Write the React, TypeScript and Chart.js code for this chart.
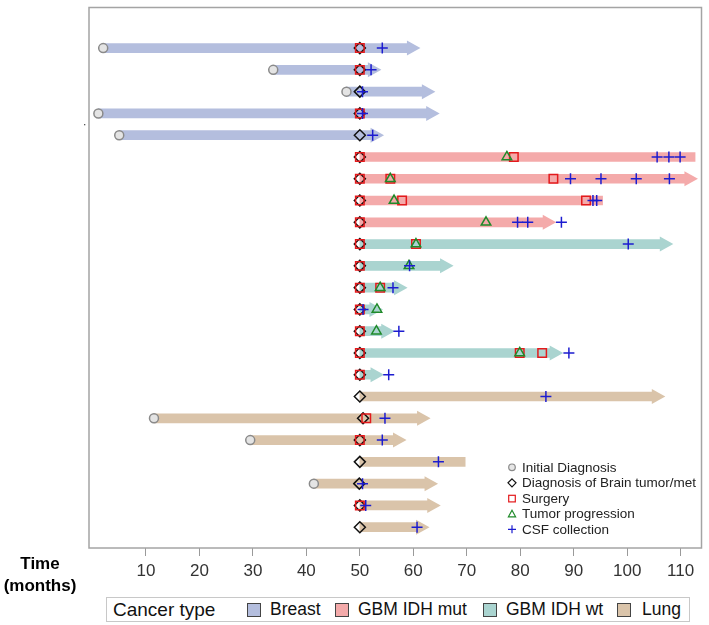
import React, { useEffect, useRef } from 'react';
import { Chart, registerables } from 'chart.js';

Chart.register(...registerables);

// ---------- data ----------
const cancerTypes = ['Breast', 'GBM IDH mut', 'GBM IDH wt', 'Lung'];
const typeColors = ['#b4bede', '#f4aaaa', '#aad4d0', '#dac4aa'];

const patientRows = [1, 2, 3, 4, 5, 6, 7, 8, 9, 10, 11, 12, 13, 14, 15, 16, 17, 18, 19, 20, 21, 22, 23];
const rowType = [0, 0, 0, 0, 0, 1, 1, 1, 1, 2, 2, 2, 2, 2, 2, 2, 3, 3, 3, 3, 3, 3, 3];
const barStart = [2.0, 33.8, 47.5, 1.1, 5.0, 50, 50, 50, 50, 50, 50, 50, 50, 50, 50, 50, 50, 11.5, 29.5, 50, 41.4, 50, 50];
const barEnd = [58.9, 51.6, 61.7, 62.5, 52.1, 112.7, 110.8, 95.4, 84.3, 106.2, 65.1, 56.5, 51.9, 54.1, 85.6, 52.1, 104.7, 60.8, 56.3, 69.7, 62.2, 62.7, 60.6];
const hasArrow = [1, 1, 1, 1, 1, 0, 1, 0, 1, 1, 1, 1, 1, 1, 1, 1, 1, 1, 1, 0, 1, 1, 1];

// [row, time in months]
const initialDiagnosis: [number, number][] = [
  [1, 2.0], [2, 33.8], [3, 47.5], [4, 1.1], [5, 5.0], [18, 11.5], [19, 29.5], [21, 41.4],
];
const brainDiagnosis: [number, number][] = [
  [1, 50], [2, 50], [3, 50], [4, 50], [5, 50], [6, 50], [7, 50], [8, 50], [9, 50], [10, 50],
  [11, 50], [12, 50], [13, 50], [14, 50], [15, 50], [16, 50], [17, 50], [18, 50.6], [19, 50],
  [20, 50], [21, 49.9], [22, 50], [23, 50],
];
const surgery: [number, number][] = [
  [1, 50], [2, 50], [4, 50], [6, 50], [6, 78.8], [7, 50], [7, 55.7], [7, 86.2], [8, 50], [8, 57.9],
  [8, 92.3], [9, 50], [10, 50], [10, 60.5], [11, 50], [12, 50], [12, 53.8], [13, 50], [14, 50],
  [15, 50], [15, 79.9], [15, 84.1], [16, 50], [18, 51.2], [19, 50], [22, 50],
];
const progression: [number, number][] = [
  [6, 77.5], [7, 55.7], [8, 56.4], [9, 73.6], [10, 60.5], [11, 59.2], [12, 53.8], [13, 53.2], [14, 53.1], [15, 79.9],
];
const csfCollection: [number, number][] = [
  [1, 54.2], [2, 52.1], [3, 50.5], [4, 50.5], [5, 52.4],
  [6, 105.6], [6, 107.8], [6, 109.9],
  [7, 89.4], [7, 95.1], [7, 101.7], [7, 107.9],
  [8, 93.6], [8, 94.3],
  [9, 79.5], [9, 81.4], [9, 87.7],
  [10, 100.2], [11, 59.3], [12, 56.2], [13, 50.6], [14, 57.3], [15, 89.1], [16, 55.4],
  [17, 84.8], [18, 54.7], [19, 54.2], [20, 64.7], [21, 50.5], [22, 51.1], [23, 60.7],
];

const tickValues = [10, 20, 30, 40, 50, 60, 70, 80, 90, 100, 110];
const eventLabels = ['Initial Diagnosis', 'Diagnosis of Brain tumor/met', 'Surgery', 'Tumor progression', 'CSF collection'];

const FONT = "'Liberation Sans', Arial, sans-serif";

const toPoints = (arr: [number, number][]) => arr.map(([r, t]) => ({ x: t, y: r }));

const framePlugin = {
  id: 'frame',
  beforeDatasetsDraw(chart: any) {
    const { ctx, chartArea: a } = chart;
    ctx.save();
    ctx.strokeStyle = '#a4a4a4';
    ctx.lineWidth = 1.5;
    ctx.strokeRect(a.left, a.top, a.right - a.left, a.bottom - a.top);
    ctx.fillStyle = '#555';
    ctx.fillRect(84, 124, 1.3, 1.3);
    ctx.restore();
  },
};

const arrowPlugin = {
  id: 'arrowHeads',
  afterDatasetDraw(chart: any, args: any) {
    if (args.index !== 0) return;
    const ctx = chart.ctx;
    const meta = args.meta;
    ctx.save();
    meta.data.forEach((el: any, i: number) => {
      if (!hasArrow[i]) return;
      const xe = Math.max(el.x, el.base);
      ctx.fillStyle = typeColors[rowType[i]];
      ctx.beginPath();
      ctx.moveTo(xe - 0.5, el.y - 7.5);
      ctx.lineTo(xe + 13, el.y);
      ctx.lineTo(xe - 0.5, el.y + 7.5);
      ctx.closePath();
      ctx.fill();
    });
    ctx.restore();
  },
};

const innerLegendPlugin = {
  id: 'innerLegend',
  afterDraw(chart: any) {
    const ctx = chart.ctx;
    const ys = [467.3, 482.8, 498.6, 514, 529.3];
    const mx = 512;
    ctx.save();
    ctx.lineWidth = 1.2;
    ctx.strokeStyle = '#8a8a8a';
    ctx.fillStyle = '#e6e6e6';
    ctx.beginPath(); ctx.arc(mx, ys[0], 3.3, 0, Math.PI * 2); ctx.fill(); ctx.stroke();
    ctx.strokeStyle = '#111';
    ctx.beginPath();
    ctx.moveTo(mx, ys[1] - 4); ctx.lineTo(mx + 4, ys[1]); ctx.lineTo(mx, ys[1] + 4); ctx.lineTo(mx - 4, ys[1]); ctx.closePath();
    ctx.stroke();
    ctx.strokeStyle = '#e31a1c';
    ctx.strokeRect(mx - 3.3, ys[2] - 3.3, 6.6, 6.6);
    ctx.strokeStyle = '#1f8a2a';
    ctx.beginPath();
    ctx.moveTo(mx, ys[3] - 3.8); ctx.lineTo(mx + 3.6, ys[3] + 2.8); ctx.lineTo(mx - 3.6, ys[3] + 2.8); ctx.closePath();
    ctx.stroke();
    ctx.strokeStyle = '#1c1cd0';
    ctx.beginPath();
    ctx.moveTo(mx - 4, ys[4]); ctx.lineTo(mx + 4, ys[4]);
    ctx.moveTo(mx, ys[4] - 4); ctx.lineTo(mx, ys[4] + 4);
    ctx.stroke();
    ctx.fillStyle = '#222';
    ctx.font = `13.5px ${FONT}`;
    ctx.textBaseline = 'middle';
    ctx.textAlign = 'left';
    eventLabels.forEach((t, i) => ctx.fillText(t, 522, ys[i] + 0.5));
    ctx.restore();
  },
};

export default function App() {
  const canvasRef = useRef<HTMLCanvasElement | null>(null);

  useEffect(() => {
    if (!canvasRef.current) return;
    const markerBase = { type: 'scatter' as const, borderWidth: 1.5, backgroundColor: 'rgba(0,0,0,0)' };
    const chart = new Chart(canvasRef.current, {
      type: 'bar',
      data: {
        datasets: [
          {
            type: 'bar',
            indexAxis: 'y',
            data: patientRows.map((r, i) => ({ x: [barStart[i], barEnd[i]], y: r })) as any,
            backgroundColor: rowType.map((t) => typeColors[t]),
            borderWidth: 0,
            barThickness: 9,
            grouped: false,
            order: 10,
          } as any,
          {
            ...markerBase,
            data: toPoints(initialDiagnosis),
            pointStyle: 'circle',
            pointRadius: 4.5,
            pointBorderColor: '#8a8a8a',
            pointBackgroundColor: '#e4e4e4',
            pointBorderWidth: 1.5,
            order: 6,
          } as any,
          {
            ...markerBase,
            data: toPoints(brainDiagnosis),
            pointStyle: 'rectRot',
            pointRadius: 5.5,
            pointBorderColor: '#111111',
            pointBackgroundColor: 'rgba(0,0,0,0)',
            pointBorderWidth: 1.5,
            order: 5,
          } as any,
          {
            ...markerBase,
            data: toPoints(surgery),
            pointStyle: 'rect',
            pointRadius: 6,
            pointBorderColor: '#e31a1c',
            pointBackgroundColor: 'rgba(0,0,0,0)',
            pointBorderWidth: 1.5,
            order: 4,
          } as any,
          {
            ...markerBase,
            data: toPoints(progression),
            pointStyle: 'triangle',
            pointRadius: 5.5,
            pointBorderColor: '#1f8a2a',
            pointBackgroundColor: 'rgba(0,0,0,0)',
            pointBorderWidth: 1.5,
            order: 3,
          } as any,
          {
            ...markerBase,
            data: toPoints(csfCollection),
            pointStyle: 'cross',
            pointRadius: 5.5,
            pointBorderColor: '#1c1cd0',
            pointBorderWidth: 1.5,
            order: 2,
          } as any,
        ],
      },
      options: {
        responsive: false,
        animation: false,
        devicePixelRatio: 1,
        events: [],
        indexAxis: 'y',
        layout: { padding: { left: 89, top: 2, right: 7, bottom: 0 } },
        plugins: { legend: { display: false }, tooltip: { enabled: false } },
        scales: {
          x: {
            type: 'linear',
            min: -0.654,
            max: 113.9,
            offset: false,
            afterBuildTicks: (axis: any) => {
              axis.ticks = tickValues.map((v) => ({ value: v }));
            },
            afterFit: (scale: any) => {
              scale.height = 77;
            },
            grid: { offset: false, drawOnChartArea: false, drawTicks: true, tickLength: 8, color: '#9a9a9a', lineWidth: 1 },
            border: { display: false },
            ticks: {
              color: '#333',
              padding: 5,
              maxRotation: 0,
              font: { family: FONT, size: 17 },
            },
          },
          y: {
            type: 'linear',
            min: -0.864,
            max: 23.955,
            reverse: true,
            offset: false,
            grid: { offset: false },
            display: false,
          },
        },
      } as any,
      plugins: [framePlugin, arrowPlugin, innerLegendPlugin],
    });
    return () => chart.destroy();
  }, []);

  const swatch = (left: number, color: string) => (
    <span
      style={{
        position: 'absolute',
        left,
        top: 5,
        width: 14,
        height: 14,
        boxSizing: 'border-box',
        border: '1px solid #444',
        background: color,
      }}
    />
  );
  const label = (left: number, text: string, size = 17.5) => (
    <span style={{ position: 'absolute', left, top: 0, lineHeight: '23px', fontSize: size, color: '#111', whiteSpace: 'nowrap' }}>
      {text}
    </span>
  );

  const swatchLefts = [140, 228, 376, 510];
  const textLefts = [163, 251, 399, 535];

  return (
    <div style={{ position: 'absolute', left: 0, top: 0, width: 709, height: 625, background: '#fff', fontFamily: FONT }}>
      <canvas ref={canvasRef} width={709} height={625} style={{ position: 'absolute', left: 0, top: 0, width: 709, height: 625 }} />
      <div
        style={{
          position: 'absolute',
          left: 0,
          top: 553,
          width: 80,
          textAlign: 'center',
          fontWeight: 'bold',
          fontSize: 17,
          lineHeight: '22px',
          color: '#000',
        }}
      >
        <div>Time</div>
        <div>(months)</div>
      </div>
      <div
        style={{
          position: 'absolute',
          left: 106,
          top: 597,
          width: 584,
          height: 25,
          boxSizing: 'border-box',
          border: '1px solid #c8c8c8',
          background: '#fff',
        }}
      >
        {label(6, 'Cancer type', 19)}
        {cancerTypes.map((t, i) => (
          <React.Fragment key={t}>
            {swatch(swatchLefts[i], typeColors[i])}
            {label(textLefts[i], t)}
          </React.Fragment>
        ))}
      </div>
    </div>
  );
}
